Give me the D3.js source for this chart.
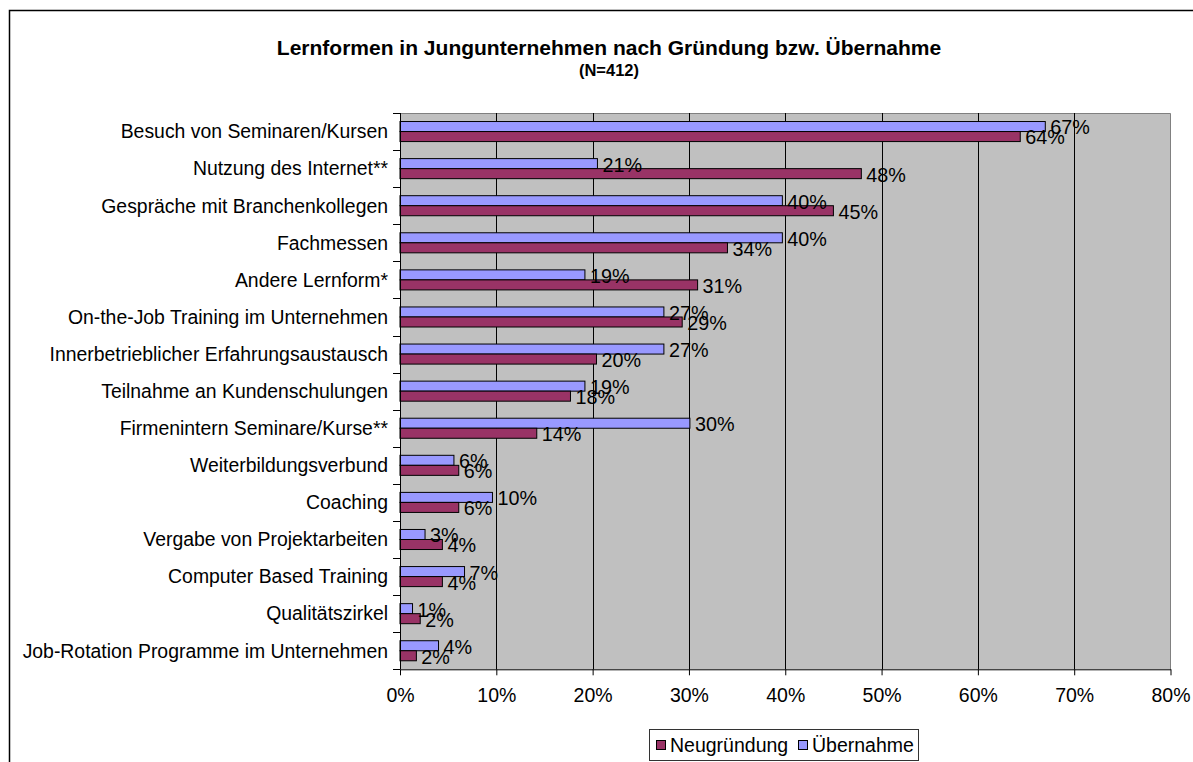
<!DOCTYPE html>
<html><head><meta charset="utf-8">
<script src="https://cdn.jsdelivr.net/npm/d3@7"></script>
<style>body{margin:0;background:#fff}svg{display:block;font-family:"Liberation Sans",Arial,sans-serif}</style>
</head><body><svg id="c" width="1193" height="762"></svg>
<script>
const categories = ["Besuch von Seminaren/Kursen","Nutzung des Internet**","Gespräche mit Branchenkollegen","Fachmessen","Andere Lernform*","On-the-Job Training im Unternehmen","Innerbetrieblicher Erfahrungsaustausch","Teilnahme an Kundenschulungen","Firmenintern Seminare/Kurse**","Weiterbildungsverbund","Coaching","Vergabe von Projektarbeiten","Computer Based Training","Qualitätszirkel","Job-Rotation Programme im Unternehmen"];
const seriesNames = ["Übernahme","Neugründung"];
const uebernahme = [67.0,20.5,39.7,39.7,19.2,27.4,27.4,19.2,30.1,5.6,9.6,2.6,6.7,1.3,4.0];
const neugruendung = [64.4,47.9,45.0,34.0,30.9,29.3,20.4,17.7,14.2,6.1,6.1,4.4,4.4,2.1,1.7];
const xTicks = [0,10,20,30,40,50,60,70,80];
const titleText = "Lernformen in Jungunternehmen nach Gründung bzw. Übernahme";
const subtitleText = "(N=412)";
const legendItems = ["Neugründung","Übernahme"];

const colors = {"Übernahme":"#9999FF","Neugründung":"#993366"};
const svg = d3.select("#c");
const P = {l:400, r:1170.5, t:113, b:669.3};

// outer frame
svg.append("rect").attr("x",9.5).attr("y",10.5).attr("width",1300).attr("height",900)
  .attr("fill","none").attr("stroke","#000").attr("stroke-width",1.5);

const x = d3.scaleLinear().domain([0,80]).range([P.l,P.r]);
const y = d3.scaleBand().domain(categories).range([P.t,P.b]).padding(0);
const ys = d3.scaleBand().domain(seriesNames).range([0,y.bandwidth()]).paddingInner(0).paddingOuter(0.85);

// plot background
svg.append("rect").attr("x",P.l).attr("y",P.t).attr("width",P.r-P.l).attr("height",P.b-P.t).attr("fill","#C0C0C0");
svg.append("path").attr("d",`M${P.l},${P.t+0.5}H${P.r}V${P.b}`).attr("fill","none").attr("stroke","#808080").attr("stroke-width",1);

// gridlines
svg.append("g").selectAll("line").data(xTicks.filter(d=>d>0&&d<80)).join("line")
  .attr("x1",d=>Math.round(x(d))+0.5).attr("x2",d=>Math.round(x(d))+0.5)
  .attr("y1",P.t).attr("y2",P.b).attr("stroke","#000").attr("stroke-width",1);

// bars
const rows = categories.map((c,i)=>({c, "Übernahme":uebernahme[i], "Neugründung":neugruendung[i]}));
const g = svg.append("g");
rows.forEach(r=>{
  seriesNames.forEach(s=>{
    const y0 = y(r.c)+ys(s);
    g.append("rect").attr("x",x(0)).attr("y",y0).attr("width",x(r[s])-x(0)).attr("height",ys.bandwidth())
      .attr("fill",colors[s]).attr("stroke","#000").attr("stroke-width",1);
  });
});

// axes
const xAxis = d3.axisBottom(x).tickValues(xTicks).tickFormat(d=>d+"%").tickSize(6).tickSizeOuter(0).tickPadding(13);
const xa = svg.append("g").attr("transform",`translate(0,${P.b})`).call(xAxis);
xa.select(".domain").attr("stroke","#000");
xa.selectAll(".tick line").attr("stroke","#000");
xa.selectAll("text").attr("font-size","19.5px").attr("fill","#000").attr("font-family","Liberation Sans, Arial, sans-serif");

// left axis line and ticks at band boundaries
svg.append("line").attr("x1",P.l+0.5).attr("x2",P.l+0.5).attr("y1",P.t).attr("y2",P.b).attr("stroke","#000");
const bounds = categories.map(c=>y(c)).concat([P.b]);
svg.append("g").selectAll("line").data(bounds).join("line")
  .attr("x1",P.l-7).attr("x2",P.l).attr("y1",d=>Math.round(d)+0.5).attr("y2",d=>Math.round(d)+0.5).attr("stroke","#000");

// category labels
svg.append("g").selectAll("text").data(categories).join("text")
  .attr("x",388).attr("y",d=>y(d)+y.bandwidth()/2).attr("dy","0.35em")
  .attr("text-anchor","end").attr("font-size","19.4px").attr("fill","#000").text(d=>d);

// value labels
rows.forEach(r=>{
  seriesNames.forEach(s=>{
    g.append("text").attr("x",x(r[s])+5).attr("y",y(r.c)+ys(s)+ys.bandwidth()/2+1).attr("dy","0.35em")
      .attr("font-size","19.8px").attr("fill","#000").text(Math.round(r[s])+"%");
  });
});

// title
svg.append("text").attr("x",609).attr("y",55).attr("text-anchor","middle").attr("font-weight","bold")
  .attr("font-size","21px").attr("fill","#000").text(titleText);
svg.append("text").attr("x",609).attr("y",75.5).attr("text-anchor","middle").attr("font-weight","bold")
  .attr("font-size","16.5px").attr("fill","#000").text(subtitleText);

// legend
const lg = svg.append("g");
lg.append("rect").attr("x",649.5).attr("y",729.5).attr("width",269).attr("height",31).attr("fill","#fff").attr("stroke","#333").attr("stroke-width",1);
const lx = [656, 798];
legendItems.forEach((s,i)=>{
  lg.append("rect").attr("x",lx[i]+0.5).attr("y",740.5).attr("width",9).attr("height",9).attr("fill",colors[s]).attr("stroke","#000");
  lg.append("text").attr("x",lx[i]+14).attr("y",745).attr("dy","0.35em").attr("font-size","19.5px").attr("fill","#000").text(s);
});
</script></body></html>
